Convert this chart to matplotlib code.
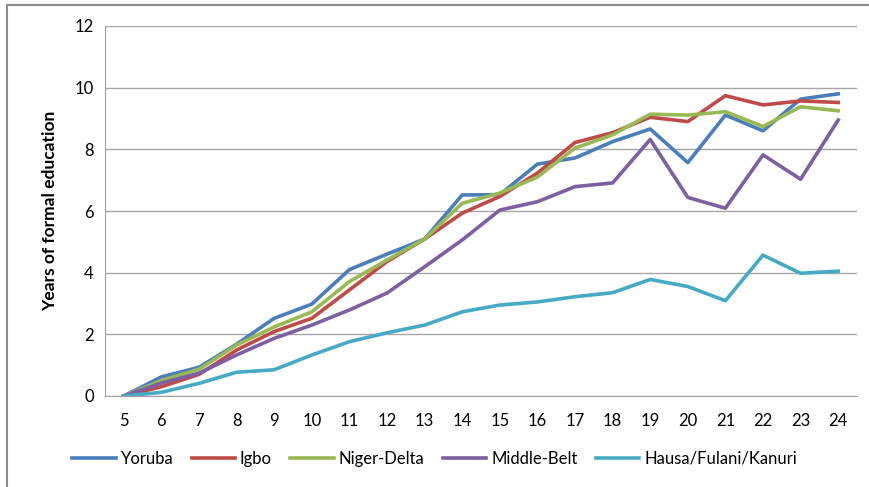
import numpy as np
import matplotlib.pyplot as plt
from matplotlib.patches import Rectangle

# ages on the x axis
ages = list(range(5, 25))

# years of formal education per group
yoruba = [0, 0.62, 0.93, 1.68, 2.52, 2.98, 4.1, 4.6, 5.09, 6.52, 6.53, 7.52, 7.72, 8.25, 8.66,
          7.57, 9.11, 8.6, 9.63, 9.8]
igbo = [0, 0.3, 0.7, 1.49, 2.09, 2.52, 3.44, 4.36, 5.09, 5.93, 6.47, 7.23, 8.22, 8.54, 9.04,
        8.9, 9.74, 9.44, 9.57, 9.52]
niger_delta = [0, 0.5, 0.87, 1.65, 2.24, 2.73, 3.71, 4.41, 5.09, 6.25, 6.58, 7.1, 8.04, 8.47, 9.14,
               9.11, 9.22, 8.74, 9.38, 9.25]
middle_belt = [0, 0.42, 0.74, 1.33, 1.87, 2.3, 2.79, 3.34, 4.19, 5.06, 6.03, 6.3, 6.79, 6.91, 8.32,
               6.44, 6.09, 7.82, 7.03, 8.95]
hausa = [0, 0.12, 0.41, 0.77, 0.85, 1.33, 1.76, 2.05, 2.3, 2.73, 2.95, 3.05, 3.22, 3.35, 3.78,
         3.55, 3.09, 4.57, 3.98, 4.05]

series = [("Yoruba", yoruba, "#4A7EBB"),
          ("Igbo", igbo, "#BE4B48"),
          ("Niger-Delta", niger_delta, "#98B954"),
          ("Middle-Belt", middle_belt, "#7D60A0"),
          ("Hausa/Fulani/Kanuri", hausa, "#46AAC5")]

plt.rcParams['font.family'] = ['Lato', 'DejaVu Sans']

fig = plt.figure(figsize=(8.69, 4.87), dpi=100)
ax = fig.add_axes([105/869, 91/487, 752/869, 370/487])

# outer chart frame
fig.patches.append(Rectangle((7/869, -0.1), 1.2, 1 - 5/487 + 0.1, transform=fig.transFigure,
                             fill=False, edgecolor="#8c8c8c", linewidth=1.5))

for name, vals, col in series:
    ax.plot(ages, vals, color=col, linewidth=2.6, label=name, solid_joinstyle="round")

ax.set_xlim(4.5, 24.5)
ax.set_ylim(0, 12)
ax.set_xticks(ages)
ax.set_yticks(np.arange(0, 13, 2))
ax.yaxis.grid(True, color="#a6a6a6", linewidth=1)
ax.set_axisbelow(True)
for s in ["top", "right"]:
    ax.spines[s].set_visible(False)
for s in ["left", "bottom"]:
    ax.spines[s].set_color("#a0a0a0")
ax.tick_params(length=0, labelsize=12, colors="#000000", pad=8)
ax.tick_params(axis="x", pad=12)
ax.set_ylabel("Years of formal education", fontsize=12.5, fontweight="bold", labelpad=12)

fig.legend(loc="center", bbox_to_anchor=(0.5, 1 - 459/487), ncol=5, frameon=False,
           fontsize=12, handlelength=2.6, handletextpad=0.3, columnspacing=1.1)

fig.savefig("out.png", dpi=100)
